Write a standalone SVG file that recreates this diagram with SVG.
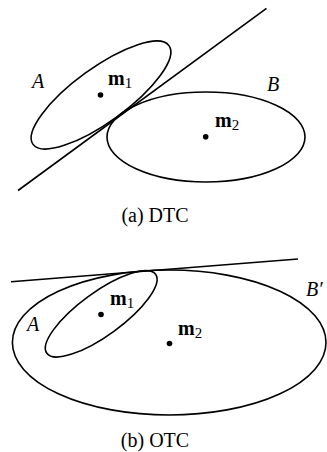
<svg xmlns="http://www.w3.org/2000/svg" width="327" height="452" viewBox="0 0 327 452">
<style>
.s{fill:none;stroke:#000;stroke-width:1.6}
.d{fill:#000}
.t{font-family:"Liberation Serif","DejaVu Serif",serif;font-size:20px;fill:#000}
.i{font-style:italic}
.b{font-weight:bold}
.sub{font-size:15px;font-weight:normal}
</style>
<rect width="327" height="452" fill="#fff"/>
<g id="connectors">
<line class="s" x1="18" y1="190.5" x2="266.5" y2="8.3"/>
<line class="s" x1="11" y1="281.7" x2="298" y2="259"/>
</g>
<g id="A-top">
<ellipse class="s" cx="101" cy="95" rx="84" ry="27" transform="rotate(-36 101 95)"/>
<circle class="d" cx="100.5" cy="95" r="2.8"/>
<text class="t i" x="32" y="88">A</text>
<text class="t b" x="108" y="85">m<tspan class="sub" dy="3">1</tspan></text>
</g>
<g id="B-top">
<ellipse class="s" cx="206" cy="137" rx="99" ry="45"/>
<circle class="d" cx="205.7" cy="136.7" r="2.8"/>
<text class="t i" x="267" y="91">B</text>
<text class="t b" x="215" y="127">m<tspan class="sub" dy="3">2</tspan></text>
</g>
<text class="t" x="155" y="222" text-anchor="middle">(a) DTC</text>
<g id="B-bottom">
<ellipse class="s" cx="169.2" cy="342.5" rx="156.8" ry="72.5"/>
<circle class="d" cx="169.5" cy="343.5" r="2.8"/>
<text class="t i" x="306" y="296">B′</text>
<text class="t b" x="178" y="335">m<tspan class="sub" dy="3">2</tspan></text>
</g>
<g id="A-bottom">
<ellipse class="s" cx="101.2" cy="313.8" rx="67.2" ry="21.6" transform="rotate(-36 101.2 313.8)"/>
<circle class="d" cx="101" cy="314.5" r="2.8"/>
<text class="t i" x="27" y="331">A</text>
<text class="t b" x="110" y="305">m<tspan class="sub" dy="3">1</tspan></text>
</g>
<text class="t" x="155" y="447" text-anchor="middle">(b) OTC</text>
</svg>
